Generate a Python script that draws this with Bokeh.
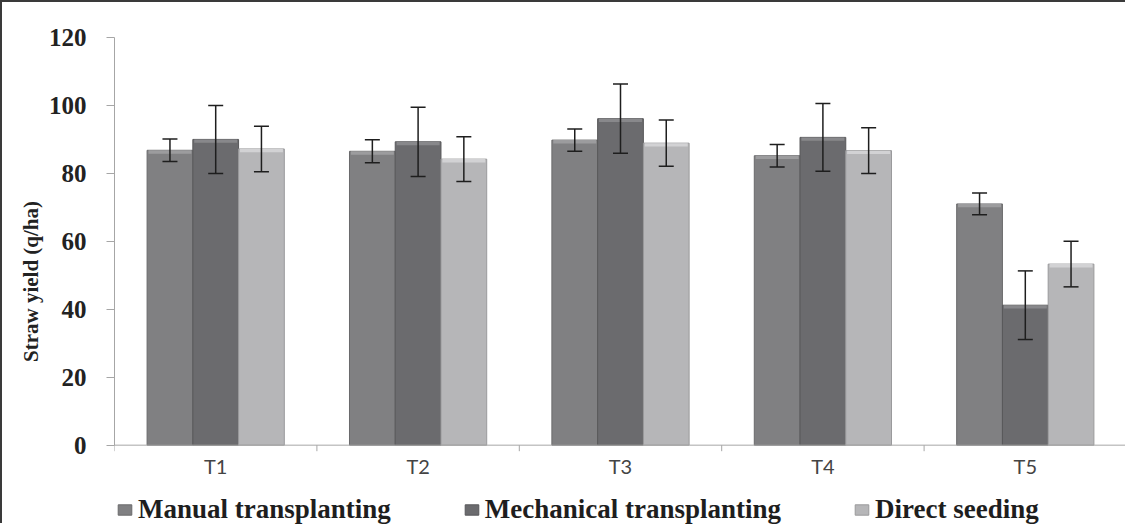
from bokeh.plotting import figure
from bokeh.models import (ColumnDataSource, Whisker, TeeHead, FixedTicker, Legend, LegendItem, Range1d, Span)
from bokeh.core.properties import value
from bokeh.transform import dodge
from bokeh.embed import file_html
from bokeh.resources import INLINE

treatments = ["T1", "T2", "T3", "T4", "T5"]
manual = [86.8, 86.5, 89.8, 85.2, 71.0]
manual_err = [3.3, 3.4, 3.3, 3.3, 3.2]
mechanical = [90.0, 89.3, 96.1, 90.6, 41.2]
mechanical_err = [10.0, 10.2, 10.2, 10.0, 10.1]
direct = [87.2, 84.2, 88.9, 86.7, 53.3]
direct_err = [6.7, 6.6, 6.8, 6.7, 6.7]
series_names = ["Manual transplanting", "Mechanical transplanting", "Direct seeding"]
y_ticks = [0, 20, 40, 60, 80, 100, 120]

x_pos = list(range(1, len(treatments) + 1))
boundaries = [i + 0.5 for i in range(0, len(treatments) + 1)]

# layout (pixels)
FIG_W, FIG_H, BORDER = 1125, 523, 2
TOP, LEFT = 35, 112
PLOT_H = 406                     # pixel height of the 0..120 value span
BELOW = FIG_H - BORDER - TOP - PLOT_H   # space kept below zero inside the frame
px_per_unit = PLOT_H / 120.0
y_lo = -BELOW / px_per_unit
tick_len = 6 / px_per_unit

p = figure(width=FIG_W, height=FIG_H, output_backend="svg", toolbar_location=None,
           x_range=Range1d(0.5, 5.5), y_range=Range1d(y_lo, 120), x_axis_location=None,
           min_border_left=LEFT, min_border_right=1, min_border_top=TOP, min_border_bottom=0)
p.outline_line_color = None
p.xgrid.visible = False
p.ygrid.visible = False
p.styles = {"border-top": "2px solid #3a3a3a", "border-left": "2px solid #3a3a3a",
            "box-sizing": "border-box"}

W = 0.226
series = [
    (manual, manual_err, -W, "#808082", "#9c9c9e", "#6a6a6c"),
    (mechanical, mechanical_err, 0.0, "#6b6b6e", "#88888b", "#58585a"),
    (direct, direct_err, W, "#b6b6b8", "#d2d2d4", "#9a9a9c"),
]

items = []
for (vals, errs, off, col, hi, edge), name in zip(series, series_names):
    src = ColumnDataSource(dict(
        x=x_pos, top=vals,
        cap=[v - 1.0 for v in vals],
        upper=[v + e for v, e in zip(vals, errs)],
        lower=[v - e for v, e in zip(vals, errs)],
    ))
    r = p.vbar(x=dodge("x", off, range=p.x_range), top="top", bottom=0, width=W, source=src,
               fill_color=col, line_color=edge, line_width=1)
    p.vbar(x=dodge("x", off, range=p.x_range), top="top", bottom="cap", width=W * 0.94, source=src,
           fill_color=hi, line_color=None)
    wk = Whisker(source=src, base=dodge("x", off, range=p.x_range), upper="upper", lower="lower",
                 level="overlay", line_color="#1e1e1e", line_width=1.5,
                 upper_head=TeeHead(size=15, line_color="#1e1e1e", line_width=1.5),
                 lower_head=TeeHead(size=15, line_color="#1e1e1e", line_width=1.5))
    p.add_layout(wk)
    items.append(LegendItem(label=name, renderers=[r]))

# category axis at zero
p.add_layout(Span(location=0, dimension="width", line_color="#a6a6a6", line_width=1))
p.segment(x0=boundaries, y0=[0] * len(boundaries), x1=boundaries, y1=[-tick_len] * len(boundaries),
          line_color="#a6a6a6", line_width=1)
p.text(x=x_pos, y=[0] * len(x_pos), text=treatments, y_offset=21,
       text_font=value("Lato"), text_font_size="20px", text_color="#444444",
       text_align="center", text_baseline="middle")

# y axis
p.yaxis.bounds = (0, 120)
p.yaxis.ticker = FixedTicker(ticks=y_ticks)
p.yaxis.axis_line_color = "#a6a6a6"
p.yaxis.major_tick_line_color = "#a6a6a6"
p.yaxis.major_tick_out = 8
p.yaxis.major_tick_in = 0
p.yaxis.minor_tick_line_color = None
p.yaxis.major_label_text_font = "Liberation Serif"
p.yaxis.major_label_text_font_style = "bold"
p.yaxis.major_label_text_font_size = "25px"
p.yaxis.major_label_text_color = "#222222"
p.yaxis.major_label_standoff = 20
p.yaxis.axis_label = "Straw yield (q/ha)"
p.yaxis.axis_label_text_font = "Liberation Serif"
p.yaxis.axis_label_text_font_style = "bold"
p.yaxis.axis_label_text_font_size = "21px"
p.yaxis.axis_label_text_color = "#222222"
p.yaxis.axis_label_standoff = 3

legend = Legend(items=items, orientation="horizontal", location=(2, 0),
                label_text_font="Liberation Serif", label_text_font_style="bold",
                label_text_font_size="27px", label_text_color="#1e1e1e",
                glyph_width=17, glyph_height=13, label_standoff=5, spacing=72,
                border_line_color=None, background_fill_alpha=0, margin=0, padding=2)
p.add_layout(legend, "center")

open("out.html", "w").write(file_html(p, INLINE))
